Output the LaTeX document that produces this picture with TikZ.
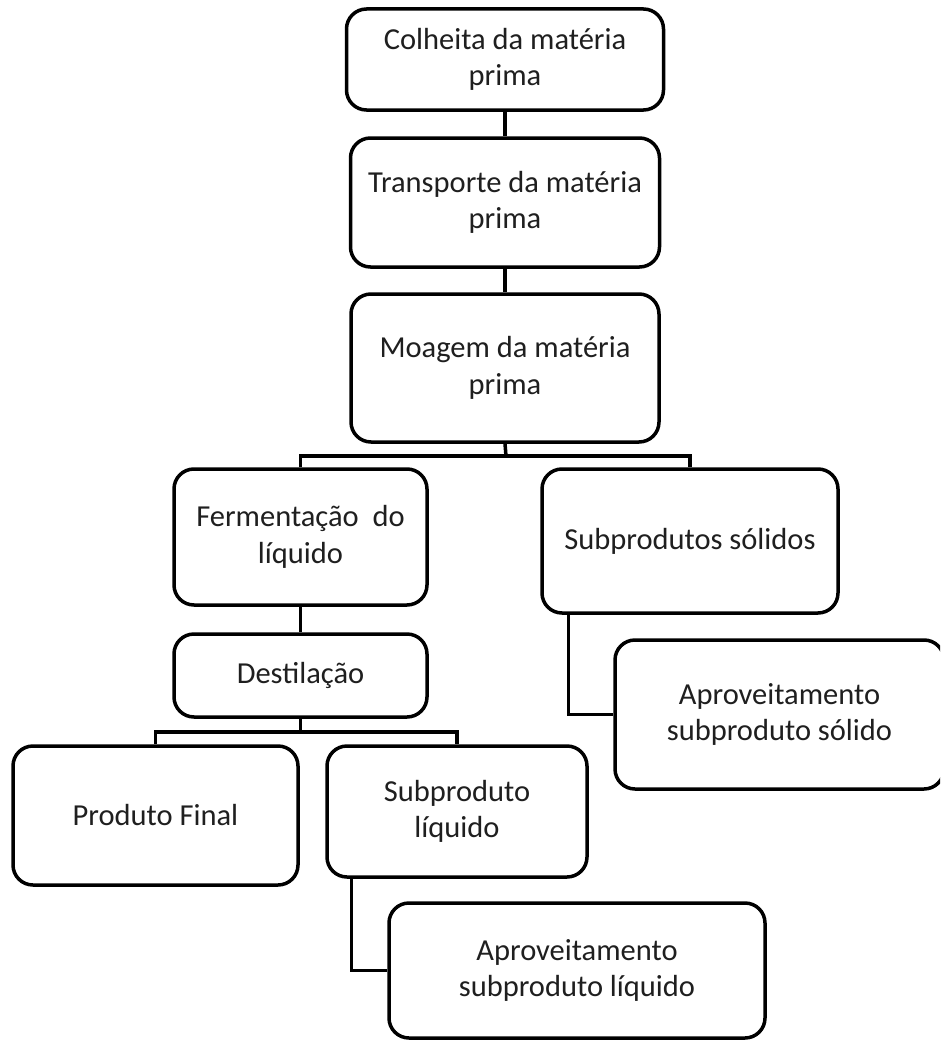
\documentclass[tikz,border=0pt]{standalone}
\usepackage{fontspec}
\setmainfont{Carlito}
\begin{document}
\begin{tikzpicture}[x=1pt,y=-1pt,
  box/.style={draw=black, fill=white, line width=3.5pt, rounded corners=20pt,
    align=center, inner sep=0pt, text=black!88,
    font=\fontsize{30.5}{36.5}\selectfont},
  conn/.style={draw=black, line width=3.5pt}]
\useasboundingbox (0,0) rectangle (940,1041);
\clip (0,0) rectangle (940,1041);
\fill[white] (0,0) rectangle (940,1041);

% connectors first
\coordinate (j1) at (506,456);
\coordinate (j2) at (300.5,732);

\node[box, minimum width=317pt, minimum height=101pt] (col) at (505,59.5) {Colheita da matéria\\prima};
\node[box, minimum width=309pt, minimum height=129pt] (tra) at (505,202.5) {Transporte da matéria\\prima};
\node[box, minimum width=308pt, minimum height=148pt] (moa) at (505,368) {Moagem da matéria\\prima};
\node[box, minimum width=253pt, minimum height=136pt] (fer) at (300.5,537) {Fermentação\ \ do\\líquido};
\node[box, minimum width=296pt, minimum height=144pt] (sso) at (690,541) {Subprodutos sólidos};
\node[box, minimum width=253pt, minimum height=83pt] (des) at (300.5,675.5) {Destilação};
\node[box, minimum width=285pt, minimum height=139pt] (pfi) at (155.5,815.5) {Produto Final};
\node[box, minimum width=260pt, minimum height=131pt] (sli) at (457,811.5) {Subproduto\\líquido};
\node[box, minimum width=376pt, minimum height=135pt] (ali) at (577,970.5) {Aproveitamento\\subproduto líquido};
\node[box, minimum width=329pt, minimum height=149pt] (aso) at (779.5,714.5) {Aproveitamento\\subproduto sólido};

\draw[conn] (col.south) -- (tra.north);
\draw[conn] (tra.south) -- (moa.north);
\draw[conn] (moa.south) -- (j1);
\draw[conn] (fer.north) |- (j1) -| (sso.north);
\draw[conn] (fer.south) -- (des.north);
\draw[conn] (des.south) -- (j2);
\draw[conn] (pfi.north) |- (j2) -| (sli.north);
\draw[conn] ([xshift=26pt]sli.south west) |- (ali.west);
\draw[conn] ([xshift=28pt]sso.south west) |- (aso.west);
\end{tikzpicture}
\end{document}
